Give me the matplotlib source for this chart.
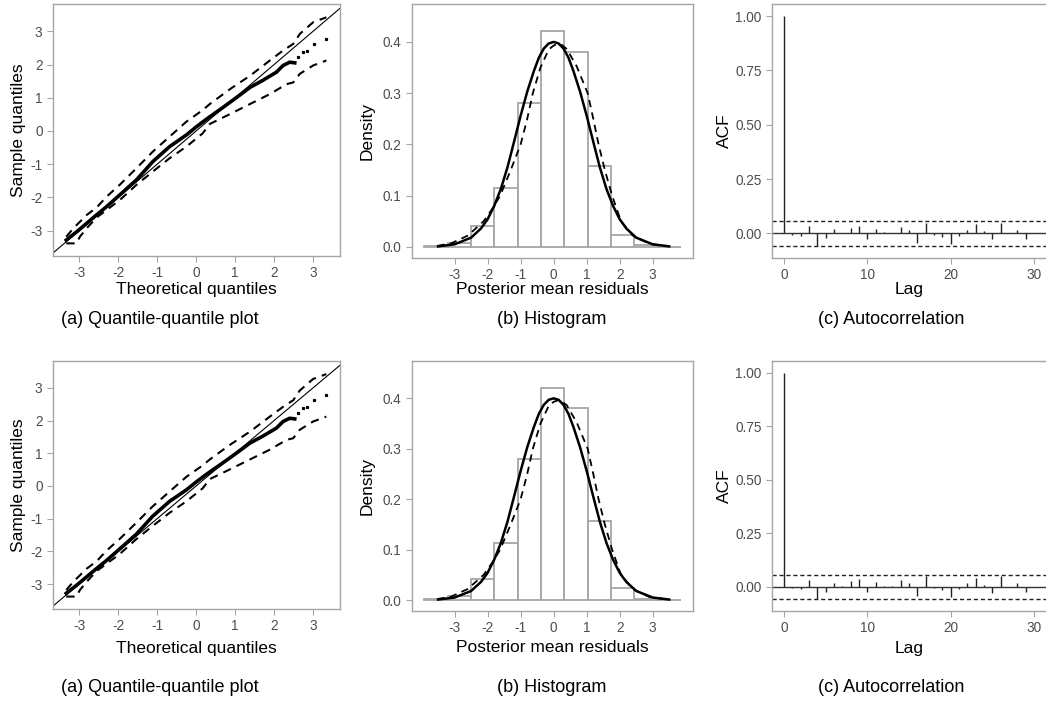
import numpy as np
import matplotlib
matplotlib.use("Agg")
import matplotlib.pyplot as plt

plt.rcParams['font.family'] = ['Liberation Sans', 'DejaVu Sans']
plt.rcParams['axes.unicode_minus'] = False

# QQ plot: sample quantile curve
qq_theo = [-3.33, -3.05, -2.81, -2.55, -2.30, -2.08, -1.87, -1.53, -1.11, -0.68, -0.25, 0.0,
           0.27, 0.69, 1.04, 1.38, 1.72, 2.06, 2.23, 2.40, 2.53]
qq_samp = [-3.28, -3.02, -2.78, -2.52, -2.28, -2.05, -1.83, -1.47, -0.92, -0.47, -0.12, 0.12,
           0.36, 0.71, 1.01, 1.31, 1.53, 1.77, 1.97, 2.07, 2.05]
# sparse upper tail points
tail_theo = [2.61, 2.74, 2.85, 3.02, 3.34]
tail_samp = [2.22, 2.37, 2.42, 2.62, 2.77]

# simulation envelope
upper_x = [-3.33, -3.15, -2.81, -2.55, -2.30, -1.96, -1.53, -1.11, -0.68, -0.25, 0.17, 0.35,
           0.87, 1.38, 1.89, 2.23, 2.49, 2.66, 3.0, 3.34]
upper_y = [-3.18, -2.93, -2.53, -2.3, -1.98, -1.62, -1.12, -0.62, -0.17, 0.28, 0.63, 0.81,
           1.26, 1.66, 2.12, 2.42, 2.62, 2.92, 3.27, 3.42]
lower_x = [-3.33, -3.07, -2.98, -2.81, -2.55, -2.30, -1.96, -1.53, -1.11, -0.68, -0.25, 0.17,
           0.35, 0.87, 1.38, 1.89, 2.32, 2.49, 2.66, 3.0, 3.34]
lower_y = [-3.38, -3.38, -3.18, -2.93, -2.6, -2.38, -2.08, -1.62, -1.22, -0.82, -0.47, -0.07,
           0.21, 0.51, 0.81, 1.11, 1.41, 1.46, 1.72, 1.97, 2.12]

# histogram
bin_edges = [-3.92, -3.21, -2.50, -1.80, -1.09, -0.38, 0.32, 1.03, 1.74, 2.44, 3.15, 3.85]
bin_heights = [0.002, 0.008, 0.041, 0.114, 0.280, 0.421, 0.380, 0.157, 0.024, 0.003, 0.0005]
# reference normal density (solid)
norm_x = [-3.5, -3.0, -2.5, -2.2, -2.0, -1.8, -1.6, -1.4, -1.2, -1.0, -0.8, -0.6, -0.45, -0.3, -0.15, 0.0,
          0.15, 0.3, 0.45, 0.6, 0.8, 1.0, 1.2, 1.4, 1.6, 1.8, 2.0, 2.2, 2.5, 3.0, 3.5]
norm_y = [0.001, 0.005, 0.018, 0.036, 0.054, 0.080, 0.113, 0.155, 0.205, 0.256, 0.303, 0.343, 0.369, 0.387, 0.397, 0.400,
          0.397, 0.387, 0.369, 0.343, 0.303, 0.256, 0.205, 0.155, 0.113, 0.080, 0.054, 0.036, 0.018, 0.005, 0.001]
# kernel density of residuals (dashed)
kde_x = [-3.52, -3.1, -2.6, -2.12, -1.85, -1.62, -1.3, -1.0, -0.8, -0.63, -0.4, -0.15,
         0.0, 0.12, 0.25, 0.4, 0.7, 1.03, 1.2, 1.36, 1.55, 1.77, 2.04, 2.4, 2.9, 3.48]
kde_y = [0.002, 0.007, 0.022, 0.05, 0.075, 0.10, 0.15, 0.20, 0.25, 0.30, 0.35, 0.385,
         0.393, 0.396, 0.394, 0.386, 0.352, 0.30, 0.25, 0.20, 0.15, 0.10, 0.05, 0.022, 0.006, 0.001]

# autocorrelation
lags = list(range(0, 30))
acf_vals = [1.0, -0.006, -0.01, 0.034, -0.058, -0.023, 0.019, 0.002, 0.025, 0.036,
            -0.026, 0.022, 0.005, 0.003, 0.030, 0.018, -0.043, 0.050, -0.005, -0.017,
            -0.047, -0.012, 0.018, 0.042, 0.010, -0.027, 0.049, 0.0, 0.018, -0.026]
acf_ci = 0.057

SPINE = '#a6a6a6'
TICKC = '#4d4d4d'

W, H = 1046, 705
fig = plt.figure(figsize=(W / 100, H / 100), dpi=100)


def box(x0, y0, x1, y1):
    return [x0 / W, 1 - y1 / H, (x1 - x0) / W, (y1 - y0) / H]


def style(ax):
    for s in ax.spines.values():
        s.set_color(SPINE)
        s.set_linewidth(1.0)
    ax.tick_params(colors=SPINE, labelcolor=TICKC, labelsize=9.8, length=4, width=0.8)


def draw_row(top, bot, label_y, cap_y):
    # (a) QQ plot
    ax = fig.add_axes(box(53, top, 340, bot))
    style(ax)
    ax.set_xlim(-3.67, 3.69)
    ax.set_ylim(-3.76, 3.82)
    ax.plot([-4, 4], [-4, 4], color='black', lw=0.8)
    ax.plot(upper_x, upper_y, color='black', lw=1.5, dashes=(4, 3))
    ax.plot(lower_x, lower_y, color='black', lw=1.5, dashes=(4, 3))
    ax.plot(qq_theo, qq_samp, color='black', lw=2.6)
    ax.plot(tail_theo, tail_samp, 's', color='black', ms=1.3)
    ax.set_xticks([-3, -2, -1, 0, 1, 2, 3])
    ax.set_yticks([-3, -2, -1, 0, 1, 2, 3])
    ax.set_ylabel('Sample quantiles', fontsize=12.5)
    ax.yaxis.set_label_coords(-27 / 287, 0.5)
    fig.text(196 / W, 1 - label_y / H, 'Theoretical quantiles', ha='center', va='center', fontsize=12.5)
    fig.text(160 / W, 1 - cap_y / H, '(a) Quantile-quantile plot', ha='center', va='center', fontsize=13)

    # (b) histogram
    ax = fig.add_axes(box(412, top, 693, bot + 2))
    style(ax)
    ax.set_xlim(-4.29, 4.22)
    ax.set_ylim(-0.0217, 0.474)
    ax.bar(bin_edges[:-1], bin_heights, width=np.diff(bin_edges), align='edge',
           facecolor='white', edgecolor='#a6a6a6', linewidth=1.3)
    ax.plot(norm_x, norm_y, color='black', lw=1.8)
    ax.plot(kde_x, kde_y, color='black', lw=1.3, dashes=(4, 3))
    ax.set_xticks([-3, -2, -1, 0, 1, 2, 3])
    ax.set_yticks([0.0, 0.1, 0.2, 0.3, 0.4])
    ax.set_ylabel('Density', fontsize=12.5)
    ax.yaxis.set_label_coords(-37 / 281, 0.5)
    fig.text(552 / W, 1 - label_y / H, 'Posterior mean residuals', ha='center', va='center', fontsize=12.5)
    fig.text(552 / W, 1 - cap_y / H, '(b) Histogram', ha='center', va='center', fontsize=13)

    # (c) autocorrelation
    ax = fig.add_axes(box(772, top, 1050, bot + 2))
    style(ax)
    ax.set_xlim(-1.45, 31.9)
    ax.set_ylim(-0.113, 1.056)
    ax.vlines(lags, 0, acf_vals, color='#222222', lw=1.0)
    ax.axhline(0, color='#333333', lw=1.0)
    ax.axhline(acf_ci, color='#222222', lw=1.0, dashes=(3, 2))
    ax.axhline(-acf_ci, color='#222222', lw=1.0, dashes=(3, 2))
    ax.set_xticks([0, 10, 20, 30])
    ax.set_yticks([0.0, 0.25, 0.5, 0.75, 1.0])
    ax.set_yticklabels(['0.00', '0.25', '0.50', '0.75', '1.00'])
    ax.set_ylabel('ACF', fontsize=12.5)
    ax.yaxis.set_label_coords(-40 / 276, 0.5)
    fig.text(909 / W, 1 - label_y / H, 'Lag', ha='center', va='center', fontsize=12.5)
    fig.text(891 / W, 1 - cap_y / H, '(c) Autocorrelation', ha='center', va='center', fontsize=13)


draw_row(4, 256, 290, 320)
draw_row(361, 609, 648, 688)

fig.savefig('out.png', dpi=100)
